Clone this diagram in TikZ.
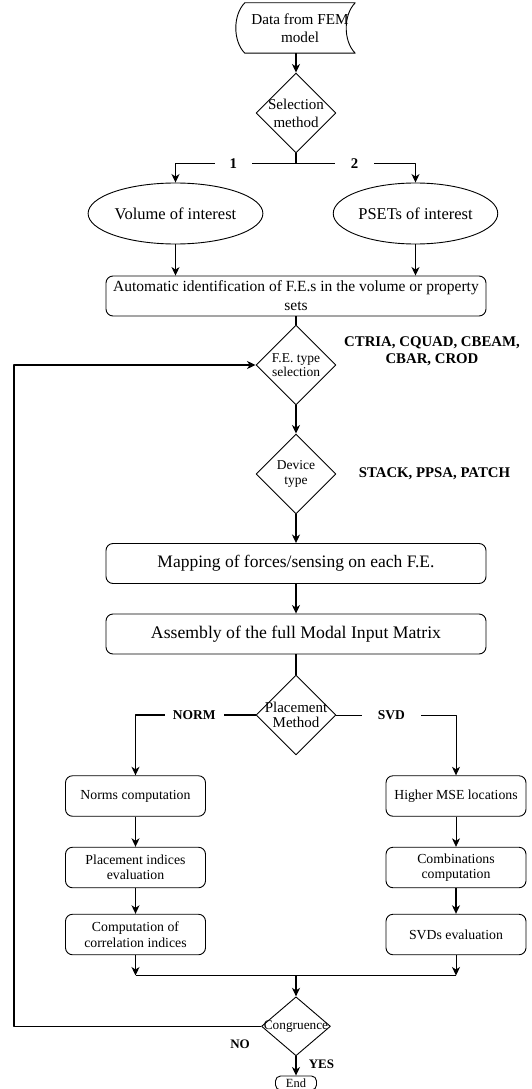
\documentclass[tikz,border=0pt]{standalone}
\usepackage{fontspec}
\setmainfont{Liberation Serif}
\usetikzlibrary{shapes.geometric,arrows.meta}
\newcommand{\setfs}[2]{\fontsize{#1}{#2}\selectfont}

\begin{document}
\begin{tikzpicture}[x=1pt, y=-1pt, line join=round,
  every node/.style={align=center, inner sep=1pt},
  store/.style={minimum width=110pt, minimum height=50pt, font=\setfs{15.2}{18}},
  process/.style={draw, line width=0.9pt, rounded corners=7pt, minimum width=380pt, minimum height=40pt},
  stepbox/.style={draw, line width=0.9pt, rounded corners=7pt, minimum width=140pt, minimum height=40.5pt, font=\setfs{13.8}{15.5}},
  blob/.style={ellipse, draw, line width=0.9pt, minimum width=141pt, minimum height=61pt, font=\setfs{16.5}{19}},
  decision/.style={diamond, draw, line width=0.9pt, minimum width=80pt, minimum height=80pt, inner sep=0pt},
  tag/.style={font=\setfs{14.8}{17}\bfseries},
  onwire/.style={tag, fill=white, inner xsep=#1},
  flow/.style={line width=1.3pt, -{Stealth[length=8.5pt, width=8pt, inset=2.5pt]}},
  thinflow/.style={flow, line width=0.75pt},
  link/.style={line width=1.3pt}]
  \useasboundingbox (0,0) rectangle (531,1089);

  % input and selection
  \node[store] (data) at (300,28) {Data from FEM\\model};
  \draw[line width=0.9pt] (data.north west) .. controls +(-12,12) and +(-12,-12) .. (data.south west)
    -- (data.south east) .. controls +(-12,-12) and +(-12,12) .. (data.north east) -- cycle;
  \node[decision, label={[font=\setfs{15}{18}]center:{Selection\\method}}] (sel) at (296,113) {};
  \coordinate (fork) at (296,163.5);
  \node[blob] (vol) at (175.5,213.5) {Volume of interest};
  \node[blob] (pset) at (415.5,213.5) {PSETs of interest};
  \node[process, font=\setfs{15.5}{19}] (auto) at (296,296) {Automatic identification of F.E.s in the volume or property\\sets};

  \draw[flow] (data.south -| sel.north) -- (sel.north);
  \draw[link] (sel.south) -- (fork);
  \draw[flow] (fork) -| node[onwire=15pt, pos=0.26] {1} (vol.north);
  \draw[flow] (fork) -| node[onwire=16pt, pos=0.245] {2} (pset.north);
  \draw[thinflow] (vol.south) -- (vol.south |- auto.north);
  \draw[flow] (pset.south) -- (pset.south |- auto.north);

  % element and device choice
  \node[decision, label={[font=\setfs{13.5}{14.5}]center:{F.E. type\\selection}}] (fe) at (296,365) {};
  \node[tag] (elems) at (432,351.5) {CTRIA, CQUAD, CBEAM,\\CBAR, CROD};
  \node[decision, label={[font=\setfs{13.5}{15}]center:{Device\\type}}] (dev) at (296,474) {};
  \node[tag] (devs) at (434.5,474) {STACK, PPSA, PATCH};
  \node[process, font=\setfs{17.5}{20}] (map) at (296,563.5) {Mapping of forces/sensing on each F.E.};
  \node[process, font=\setfs{17.7}{20}] (asm) at (296,634) {Assembly of the full Modal Input Matrix};

  \draw[link] (auto.south) -- (fe.north);
  \draw[flow] (fe.south) -- (dev.north);
  \draw[flow] (dev.south) -- (map.north);
  \draw[flow] (map.south) -- (asm.north);

  % placement branches
  \node[decision, label={[font=\setfs{15}{15}]center:{Placement\\Method}}] (place) at (296,715) {};
  \draw[link] (asm.south) -- (place.north);

  \node[stepbox] (norms) at (135.5,796) {Norms computation};
  \node[stepbox] (pidx) at (135.5,867.5) {Placement indices\\evaluation};
  \node[stepbox] (corr) at (135.5,934.5) {Computation of\\correlation indices};
  \node[stepbox] (mse) at (456,796) {Higher MSE locations};
  \node[stepbox] (comb) at (456,867.5) {Combinations\\computation};
  \node[stepbox] (svds) at (456,934.5) {SVDs evaluation};

  \draw[flow] (place.west) -| node[onwire=8pt, pos=0.255, font=\setfs{13.5}{16}\bfseries] {NORM} (norms.north);
  \draw[thinflow] (place.east) -| node[onwire=16pt, pos=0.23, font=\setfs{13.5}{16}\bfseries] {SVD} (mse.north);
  \draw[flow] (norms) -- (pidx);
  \draw[flow] (pidx) -- (corr);
  \draw[thinflow] (mse) -- (comb);
  \draw[flow] (comb) -- (svds);

  % merge, check and loop back
  \coordinate (join) at (296,975.5);
  \coordinate (loopx) at (14,0);
  \node[decision, minimum width=69pt, minimum height=59pt, label={[font=\setfs{13.3}{15}]center:Congruence}] (cong) at (296,1026.3) {};
  \draw[flow] (corr.south) -- (corr.south |- join);
  \draw[thinflow] (svds.south) -- (svds.south |- join);
  \draw[link] (corr.south |- join) -- (svds.south |- join);
  \draw[flow] (join) -- (cong.north);
  \draw[flow] (cong.west) -- (cong.west -| loopx) |- (fe.west);
  \node[tag, font=\setfs{13}{15}\bfseries] (no) at (240,1044) {NO};
  \node[tag, font=\setfs{13}{15}\bfseries] (yes) at (321.4,1064.4) {YES};
  \node[draw, line width=0.9pt, rounded corners=5pt, minimum width=41pt, minimum height=14pt, inner ysep=0.5pt, font=\setfs{12.5}{14}] (end) at (296,1083) {End};
  \draw[flow] (cong.south) -- (end.north);
\end{tikzpicture}
\end{document}
